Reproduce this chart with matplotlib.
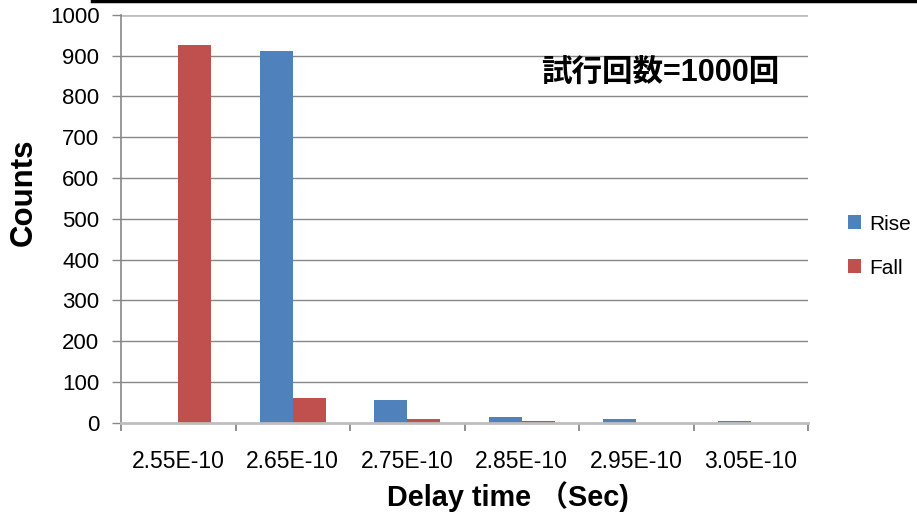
import matplotlib
matplotlib.use("Agg")
import matplotlib.pyplot as plt
from matplotlib.lines import Line2D
import numpy as np

# Delay-time histogram data
categories = ["2.55E-10", "2.65E-10", "2.75E-10", "2.85E-10", "2.95E-10", "3.05E-10"]
rise_counts = [0, 911, 56, 14, 9, 4]
fall_counts = [926, 61, 9, 4, 0, 0]
series_names = ["Rise", "Fall"]
y_ticks = [0, 100, 200, 300, 400, 500, 600, 700, 800, 900, 1000]
annotation = "試行回数=1000回"
x_title = "Delay time （Sec)"
y_title = "Counts"

RISE_COLOR = "#4F81BD"
FALL_COLOR = "#C0504D"
GRID_COLOR = "#878787"
LIGHT_GRAY = "#BEBEBE"
FONTS = ["Liberation Sans", "Noto Sans CJK JP", "DejaVu Sans"]

plt.rcParams["font.family"] = FONTS

W, H = 917, 517
fig = plt.figure(figsize=(W / 100, H / 100), dpi=100)
ax = fig.add_axes([121 / W, (H - 422.7) / H, (808 - 121) / W, (422.7 - 14.7) / H])

x = np.arange(len(categories))
bw = 0.288
ax.bar(x - bw / 2, rise_counts, width=bw, color=RISE_COLOR, label=series_names[0], zorder=3)
ax.bar(x + bw / 2, fall_counts, width=bw, color=FALL_COLOR, label=series_names[1], zorder=3)

ax.set_xlim(-0.5, len(categories) - 0.5)
ax.set_ylim(0, 1000)

# y axis
ax.set_yticks(y_ticks)
ax.set_yticklabels([str(v) for v in y_ticks])
ax.tick_params(axis="y", direction="out", length=6.5, width=1, color=GRID_COLOR,
               pad=9, labelsize=16)
ax.yaxis.grid(True, color=GRID_COLOR, linewidth=1, zorder=0)
gl = ax.get_ygridlines()
gl[-1].set_color(LIGHT_GRAY)
gl[-1].set_linewidth(2)
gl[0].set_visible(False)

# x axis: labels at category centres, tick marks at boundaries
ax.set_xticks(x)
ax.set_xticklabels(categories)
ax.set_xticks(np.arange(-0.5, len(categories)), minor=True)
ax.tick_params(axis="x", which="major", length=0, pad=19.5, labelsize=16.5)
ax.tick_params(axis="x", which="minor", direction="out", length=6, width=1.3,
               color=GRID_COLOR)

for side in ("top", "right"):
    ax.spines[side].set_visible(False)
ax.spines["left"].set_color(GRID_COLOR)
ax.spines["left"].set_linewidth(1.2)
ax.spines["bottom"].set_color(LIGHT_GRAY)
ax.spines["bottom"].set_linewidth(2)
ax.spines["bottom"].set_zorder(4)

# titles
fig.text(24 / W, 1 - 192 / H, y_title, rotation=90, ha="center", va="center",
         fontsize=22.5, fontweight="bold")
fig.text(507.5 / W, 1 - 497 / H, x_title, ha="center", va="center",
         fontsize=20.8, fontweight="bold")
fig.text(660.5 / W, 1 - 72.5 / H, annotation, ha="center", va="center",
         fontsize=22, fontweight="bold")

# legend
fig.legend(loc="upper left", bbox_to_anchor=(847.5 / W, 1 - 214.5 / H), frameon=False,
           fontsize=15, handlelength=0.65, handleheight=0.65, handletextpad=0.4,
           labelspacing=1.21, borderaxespad=0, borderpad=0)

# rule across the top
fig.add_artist(Line2D([92 / W, 1], [1 - 1 / H, 1 - 1 / H], color="black", linewidth=2.5,
                      transform=fig.transFigure))

fig.savefig("out.png", dpi=100)
